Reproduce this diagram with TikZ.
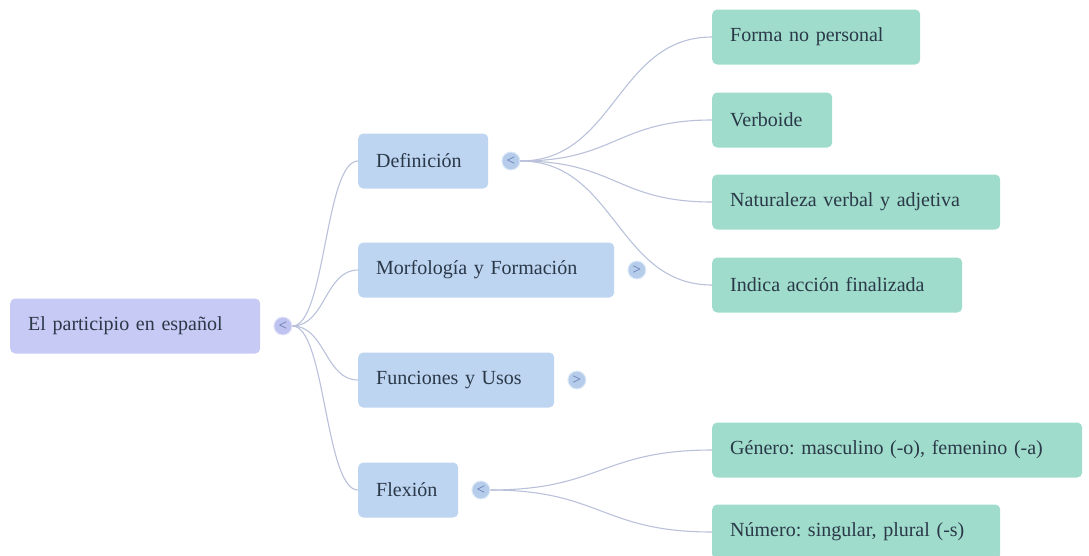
\documentclass[tikz,border=0pt]{standalone}
\usepackage{fontspec}
\setmainfont{Liberation Serif}
\usetikzlibrary{positioning}
\hyphenpenalty=10000
\frenchspacing
\definecolor{rootfill}{HTML}{C7CAF5}
\definecolor{topicfill}{HTML}{BDD5F1}
\definecolor{leaffill}{HTML}{9FDCCB}
\definecolor{linkcol}{HTML}{BAC2DB}
\definecolor{ink}{HTML}{2A3848}
\definecolor{toggleink}{HTML}{5B6FA8}

\begin{document}
\begin{tikzpicture}[
	x=1pt, y=-1pt,
	node distance=13pt,
	box/.style = {rounded corners=5pt, minimum height=55pt, inner xsep=18pt,
	              align=left, text=ink, anchor=west,
	              font=\fontsize{20}{24}\selectfont},
	rootbox/.style = {box, fill=rootfill},
	topic/.style = {box, fill=topicfill},
	leaf/.style = {box, fill=leaffill},
	toggle/.style = {circle, minimum size=18pt, inner sep=0pt, text=toggleink,
	                 line width=1pt, font=\fontsize{15}{15}\selectfont},
	link/.style = {draw=linkcol, line width=1.1pt}
	]
	\path[use as bounding box, clip] (0,0) rectangle (1089,555);
%
		\node[rootbox, text width=214pt] (root) at (10,326) {El participio en español};
		\node[toggle, fill=rootfill!92!toggleink, draw=rootfill!50!white, right=of root] (root-t) {<};
%
		\node[topic, text width=94pt]  (def)  at (358,161) {Definición};
		\node[topic, text width=220pt] (morf) at (358,270) {Morfología y Formación};
		\node[topic, text width=160pt] (func) at (358,380) {Funciones y Usos};
		\node[topic, text width=64pt]  (flex) at (358,490) {Flexión};
		\node[toggle, fill=topicfill!92!toggleink, draw=topicfill!50!white, right=of def]  (def-t)  {<};
		\node[toggle, fill=topicfill!92!toggleink, draw=topicfill!50!white, right=of morf] (morf-t) {>};
		\node[toggle, fill=topicfill!92!toggleink, draw=topicfill!50!white, right=of func] (func-t) {>};
		\node[toggle, fill=topicfill!92!toggleink, draw=topicfill!50!white, right=of flex] (flex-t) {<};
%
		\node[leaf, text width=172pt] (forma)  at (712,37)  {Forma no personal};
		\node[leaf, text width=84pt]  (verb)   at (712,120) {Verboide};
		\node[leaf, text width=252pt] (natu)   at (712,202) {Naturaleza verbal y adjetiva};
		\node[leaf, text width=214pt] (indica) at (712,285) {Indica acción finalizada};
		\node[leaf, text width=334pt] (genero) at (712,450) {Género: masculino (-o), femenino (-a)};
		\node[leaf, text width=252pt] (numero) at (712,532) {Número: singular, plural (-s)};
%
		\foreach \c in {def, morf, func, flex}
			\draw[link] (root-t.east) .. controls +(33,0) and +(-33,0) .. (\c.west);
		\foreach \c in {forma, verb, natu, indica}
			\draw[link] (def-t.east) .. controls +(95,0) and +(-95,0) .. (\c.west);
		\foreach \c in {genero, numero}
			\draw[link] (flex-t.east) .. controls +(110,0) and +(-110,0) .. (\c.west);
\end{tikzpicture}
\end{document}
